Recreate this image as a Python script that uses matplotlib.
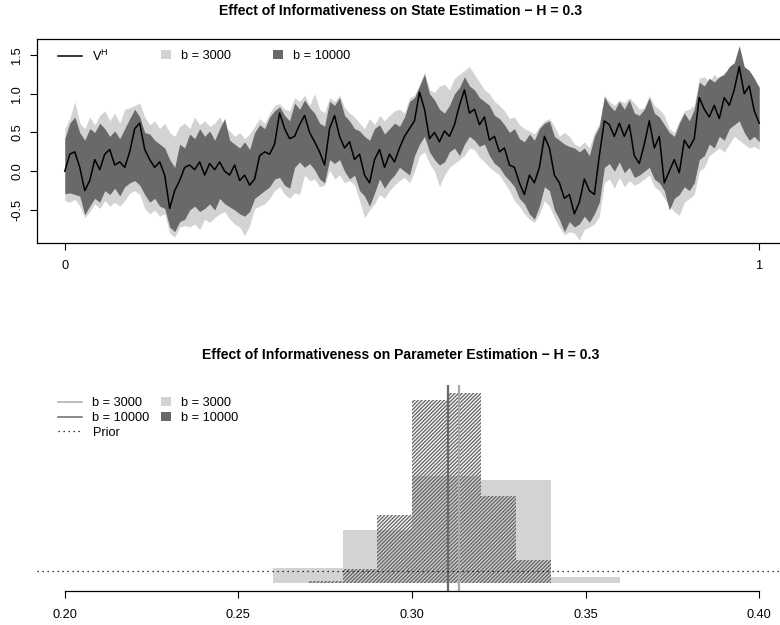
import numpy as np
import matplotlib
matplotlib.use('Agg')
import matplotlib.pyplot as plt
from matplotlib.lines import Line2D
from matplotlib.patches import Patch

plt.rcParams['font.family'] = ['Liberation Sans', 'DejaVu Sans']
plt.rcParams['hatch.linewidth'] = 1.0

# state path and filter bands (one value every ~5 px)
v_true = [0.00, 0.22, 0.25, 0.05, -0.25, -0.12, 0.15, 0.02, 0.22, 0.28,
          0.08, 0.12, 0.05, 0.25, 0.55, 0.62, 0.28, 0.15, 0.05, 0.12,
          -0.05, -0.48, -0.25, -0.12, 0.05, 0.08, 0.02, 0.12, -0.05, 0.10,
          0.02, 0.12, 0.00, -0.05, 0.08, -0.12, -0.05, -0.18, -0.10, 0.20,
          0.25, 0.22, 0.35, 0.75, 0.55, 0.42, 0.45, 0.60, 0.72, 0.50,
          0.38, 0.25, 0.08, 0.55, 0.72, 0.45, 0.30, 0.38, 0.15, 0.22,
          -0.05, -0.15, 0.15, 0.28, 0.05, 0.22, 0.12, 0.30, 0.45, 0.55,
          0.65, 1.02, 0.80, 0.42, 0.50, 0.38, 0.52, 0.45, 0.60, 0.85,
          1.05, 0.75, 0.80, 0.60, 0.70, 0.40, 0.45, 0.25, 0.30, 0.08,
          0.05, -0.15, -0.30, -0.05, -0.15, 0.05, 0.45, 0.30, -0.05, -0.15,
          -0.35, -0.30, -0.55, -0.40, -0.10, -0.25, -0.30, 0.20, 0.65, 0.60,
          0.45, 0.62, 0.45, 0.60, 0.20, 0.10, 0.35, 0.65, 0.30, 0.45,
          -0.15, 0.00, 0.15, -0.02, 0.40, 0.30, 0.42, 0.95, 0.80, 0.70,
          0.85, 0.68, 0.95, 0.85, 1.05, 1.35, 1.00, 1.10, 0.78, 0.62]

up_10000 = [0.42, 0.62, 0.70, 0.50, 0.40, 0.55, 0.50, 0.62, 0.55, 0.45,
            0.52, 0.42, 0.55, 0.68, 0.80, 0.70, 0.50, 0.48, 0.40, 0.35,
            0.30, 0.15, 0.05, 0.35, 0.30, 0.48, 0.42, 0.55, 0.45, 0.52,
            0.40, 0.55, 0.68, 0.40, 0.35, 0.30, 0.38, 0.28, 0.50, 0.60,
            0.55, 0.70, 0.78, 0.83, 0.72, 0.65, 0.88, 0.80, 0.92, 0.82,
            0.75, 0.62, 0.58, 0.90, 0.85, 0.95, 0.72, 0.65, 0.55, 0.52,
            0.45, 0.40, 0.55, 0.60, 0.48, 0.55, 0.62, 0.58, 0.70, 0.90,
            0.95, 1.10, 1.25, 1.00, 0.92, 0.80, 0.75, 0.85, 1.00, 1.08,
            1.22, 1.10, 1.05, 0.95, 0.90, 0.85, 0.72, 0.68, 0.60, 0.50,
            0.55, 0.42, 0.38, 0.48, 0.40, 0.55, 0.62, 0.65, 0.45, 0.40,
            0.35, 0.32, 0.30, 0.25, 0.30, 0.20, 0.45, 0.58, 0.96, 0.85,
            0.78, 0.90, 0.80, 0.92, 0.75, 0.72, 0.80, 0.95, 0.75, 0.70,
            0.60, 0.50, 0.45, 0.62, 0.75, 0.65, 0.80, 1.15, 1.10, 1.20,
            1.15, 1.22, 1.25, 1.35, 1.40, 1.62, 1.35, 1.30, 1.20, 1.08]

lo_10000 = [-0.29, -0.28, -0.30, -0.32, -0.56, -0.45, -0.35, -0.40, -0.25, -0.30,
            -0.22, -0.32, -0.20, -0.15, -0.12, -0.18, -0.30, -0.40, -0.35, -0.45,
            -0.48, -0.72, -0.78, -0.65, -0.62, -0.50, -0.45, -0.52, -0.48, -0.42,
            -0.50, -0.35, -0.42, -0.46, -0.50, -0.55, -0.58, -0.52, -0.35, -0.30,
            -0.25, -0.20, -0.10, -0.08, -0.18, -0.22, 0.05, 0.12, 0.05, 0.10,
            0.02, -0.10, -0.15, 0.15, 0.10, 0.15, 0.00, -0.10, -0.05, -0.25,
            -0.32, -0.45, -0.28, -0.10, -0.22, -0.12, -0.05, 0.05, 0.00, -0.05,
            0.20, 0.35, 0.45, 0.25, 0.15, 0.08, 0.12, 0.25, 0.30, 0.20,
            0.35, 0.45, 0.40, 0.32, 0.35, 0.20, 0.10, 0.05, -0.05, -0.12,
            -0.20, -0.35, -0.42, -0.55, -0.62, -0.45, -0.20, -0.25, -0.50, -0.62,
            -0.78, -0.65, -0.72, -0.68, -0.58, -0.66, -0.55, -0.40, 0.05, 0.10,
            0.00, 0.12, -0.02, 0.05, -0.08, -0.05, 0.00, 0.05, -0.10, -0.15,
            -0.25, -0.50, -0.35, -0.30, -0.20, -0.25, -0.15, 0.15, 0.20, 0.35,
            0.30, 0.45, 0.40, 0.55, 0.60, 0.65, 0.50, 0.40, 0.45, 0.38]

up_3000 = [0.55, 0.68, 0.90, 0.62, 0.55, 0.70, 0.60, 0.72, 0.78, 0.65,
           0.75, 0.62, 0.80, 0.82, 0.85, 0.88, 0.70, 0.60, 0.65, 0.55,
           0.62, 0.50, 0.45, 0.58, 0.62, 0.55, 0.70, 0.60, 0.65, 0.58,
           0.62, 0.70, 0.58, 0.52, 0.45, 0.50, 0.42, 0.48, 0.58, 0.68,
           0.62, 0.75, 0.85, 0.87, 0.80, 0.78, 0.95, 0.90, 0.98, 0.85,
           1.00, 0.80, 0.75, 0.95, 0.90, 0.98, 0.82, 0.75, 0.70, 0.62,
           0.55, 0.68, 0.60, 0.72, 0.65, 0.72, 0.78, 0.80, 0.75, 0.95,
           0.98, 1.12, 1.28, 1.05, 1.02, 1.10, 1.12, 1.05, 1.20, 1.25,
           1.30, 1.35, 1.25, 1.15, 1.05, 1.00, 0.90, 0.85, 0.78, 0.68,
           0.70, 0.60, 0.55, 0.52, 0.48, 0.58, 0.65, 0.68, 0.58, 0.45,
           0.50, 0.45, 0.35, 0.32, 0.38, 0.30, 0.50, 0.62, 0.98, 0.90,
           0.85, 0.92, 0.88, 0.95, 0.88, 0.80, 0.82, 0.98, 0.85, 0.80,
           0.72, 0.55, 0.50, 0.65, 0.78, 0.80, 0.85, 1.20, 1.22, 1.15,
           1.25, 1.18, 1.28, 1.30, 1.38, 1.35, 1.30, 1.25, 1.15, 1.10]

lo_3000 = [-0.38, -0.40, -0.36, -0.45, -0.60, -0.52, -0.42, -0.48, -0.38, -0.45,
           -0.40, -0.45, -0.38, -0.28, -0.25, -0.30, -0.48, -0.55, -0.50, -0.58,
           -0.55, -0.80, -0.85, -0.72, -0.70, -0.72, -0.68, -0.75, -0.62, -0.66,
           -0.60, -0.55, -0.52, -0.62, -0.68, -0.72, -0.83, -0.70, -0.48, -0.45,
           -0.42, -0.35, -0.25, -0.20, -0.30, -0.35, -0.28, -0.30, -0.05, -0.12,
           -0.10, -0.20, -0.18, 0.02, -0.10, -0.05, -0.15, -0.12, -0.18, -0.38,
           -0.60, -0.50, -0.42, -0.30, -0.35, -0.25, -0.18, -0.12, -0.08, -0.15,
           0.00, 0.20, 0.25, 0.10, 0.00, -0.20, -0.05, 0.05, 0.10, 0.15,
           0.20, 0.30, 0.28, 0.18, 0.12, 0.05, 0.00, -0.05, -0.15, -0.25,
           -0.38, -0.45, -0.55, -0.62, -0.66, -0.55, -0.38, -0.45, -0.60, -0.72,
           -0.82, -0.78, -0.80, -0.89, -0.75, -0.72, -0.68, -0.58, -0.15, -0.10,
           -0.22, -0.08, -0.20, -0.12, -0.18, -0.15, -0.10, -0.05, -0.20, -0.25,
           -0.35, -0.45, -0.52, -0.57, -0.40, -0.35, -0.30, 0.00, 0.05, 0.20,
           0.25, 0.30, 0.25, 0.35, 0.45, 0.40, 0.35, 0.30, 0.32, 0.28]

# posterior histograms of H (density scale)
edges_3000 = [0.26, 0.28, 0.30, 0.32, 0.34, 0.36]
dens_3000 = [2.6, 9.3, 18.8, 18.1, 1.1]
edges_10000 = [0.27, 0.28, 0.29, 0.30, 0.31, 0.32, 0.33, 0.34]
dens_10000 = [0.35, 2.5, 12.0, 32.2, 33.5, 15.3, 4.0]
mean_3000 = 0.3136
mean_10000 = 0.3105
prior_dens = 2.1

light = '#d3d3d3'
dark = '#696969'
mid = '#a9a9a9'

fig = plt.figure(figsize=(7.8, 6.25), dpi=100)

# ---- top panel: state estimation
ax1 = fig.add_axes([37/780, 1 - 243/625, 750/780, 204/625])
t = np.linspace(0, 1, len(v_true))
ax1.fill_between(t, lo_3000, up_3000, color=light, lw=0)
ax1.fill_between(t, lo_10000, up_10000, color=dark, lw=0)
ax1.plot(t, v_true, color='black', lw=1.1)
ax1.set_xlim(-0.04, 1.04)
ax1.set_ylim(-0.926, 1.706)
ax1.set_xticks([0, 1])
ax1.set_xticklabels(['0', '1'])
ax1.set_yticks([-0.5, 0.0, 0.5, 1.0, 1.5])
ax1.set_yticklabels(['-0.5', '0.0', '0.5', '1.0', '1.5'])
ax1.tick_params(axis='both', labelsize=9.2, length=5, width=0.8, direction='out')
ax1.tick_params(axis='x', pad=7)
ax1.tick_params(axis='y', pad=5)
for lab in ax1.get_yticklabels():
    lab.set_rotation(90)
    lab.set_va('center')
for s in ax1.spines.values():
    s.set_linewidth(0.9)

fig.text(401/780, 1 - 15/625, 'Effect of Informativeness on State Estimation \u2212 H = 0.3',
         ha='center', va='baseline', fontsize=10.1, fontweight='bold')

leg_kw = dict(frameon=False, fontsize=9.2, borderpad=0, borderaxespad=0,
              handletextpad=0.8, loc='center left')
fig.legend([Line2D([], [], color='black', lw=1.1)], [r'$\mathregular{V^H}$'],
           bbox_to_anchor=(58/780, 1 - 56/625), handlelength=1.9, **leg_kw)
fig.legend([Patch(color=light, lw=0)], ['b = 3000'],
           bbox_to_anchor=(161/780, 1 - 56/625), handlelength=0.75, handleheight=0.75, **leg_kw)
fig.legend([Patch(color=dark, lw=0)], ['b = 10000'],
           bbox_to_anchor=(273/780, 1 - 56/625), handlelength=0.75, handleheight=0.75, **leg_kw)

# ---- bottom panel: parameter estimation
ax2 = fig.add_axes([37/780, 1 - 590.6/625, 750/780, 205.6/625])
ax2.bar(edges_3000[:-1], dens_3000, width=np.diff(edges_3000), align='edge',
        color=light, lw=0)
ax2.bar(edges_10000[:-1], dens_10000, width=np.diff(edges_10000), align='edge',
        facecolor='none', edgecolor=dark, hatch='/' * 9, lw=0)
ax2.axvline(mean_10000, color=dark, lw=1.6)
ax2.axvline(mean_3000, color=mid, lw=1.6)
ax2.axhline(prior_dens, color='black', lw=0.9, ls=(0, (1, 3)))
top = max(dens_10000)
ax2.set_xlim(0.192, 0.408)
ax2.set_ylim(-0.04 * top, 1.04 * top)
ax2.set_xticks([0.20, 0.25, 0.30, 0.35, 0.40])
ax2.set_xticklabels(['0.20', '0.25', '0.30', '0.35', '0.40'])
ax2.set_yticks([])
for side in ['left', 'right', 'top']:
    ax2.spines[side].set_visible(False)
ax2.spines['bottom'].set_bounds(0.20, 0.40)
ax2.spines['bottom'].set_linewidth(0.9)
ax2.tick_params(axis='x', labelsize=9.2, length=5, width=0.8, pad=8)

fig.text(401/780, 1 - 359/625, 'Effect of Informativeness on Parameter Estimation \u2212 H = 0.3',
         ha='center', va='baseline', fontsize=10.1, fontweight='bold')

fig.legend([Line2D([], [], color=mid, lw=1.1), Line2D([], [], color=dark, lw=1.1),
            Line2D([], [], color='black', lw=0.9, ls=(0, (1, 3)))],
           ['b = 3000', 'b = 10000', 'Prior'],
           bbox_to_anchor=(58/780, 1 - 418/625), handlelength=1.9, labelspacing=0.22, **leg_kw)
fig.legend([Patch(color=light, lw=0), Patch(color=dark, lw=0)],
           ['b = 3000', 'b = 10000'],
           bbox_to_anchor=(161/780, 1 - 410.5/625), handlelength=0.75, handleheight=0.75,
           labelspacing=0.22, **leg_kw)

fig.savefig('out.png', dpi=100)
